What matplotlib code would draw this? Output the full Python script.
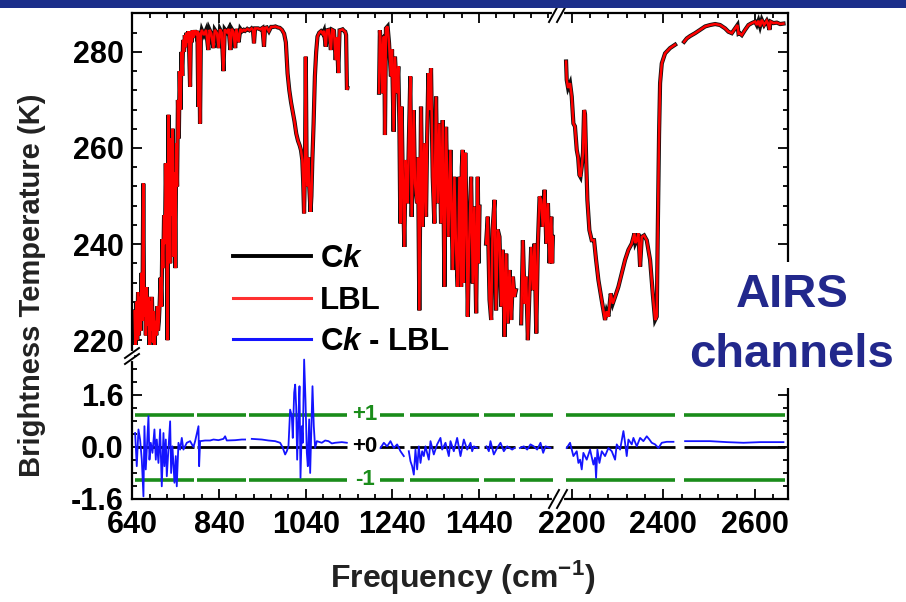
import numpy as np
import matplotlib
matplotlib.use('Agg')
import matplotlib.pyplot as plt
from matplotlib.ticker import MultipleLocator, FixedLocator, FormatStrFormatter
from matplotlib.lines import Line2D
from matplotlib.patches import Rectangle

plt.rcParams['font.family'] = ['Liberation Sans', 'DejaVu Sans']
plt.rcParams['font.weight'] = 'bold'
plt.rcParams['mathtext.fontset'] = 'custom'
plt.rcParams['mathtext.rm'] = 'Liberation Sans:bold'
plt.rcParams['mathtext.it'] = 'Liberation Sans:bold:italic'
plt.rcParams['mathtext.bf'] = 'Liberation Sans:bold'
plt.rcParams['axes.unicode_minus'] = False

nan = float('nan')

# ---------------- data ----------------
# Brightness temperature, LBL (K), long-wave part (cm-1, K); Ck coincides with LBL
bt_long = [
    (645, 226), (647, 219), (649, 228), (651, 220), (653, 230), (655, 221), (657, 229), (659, 222),
    (661, 234), (663, 224), (665, 252.6), (667, 225), (669, 231), (671, 221), (673, 231), (675, 223),
    (677, 229), (679, 219), (681, 228), (683, 222), (685, 229), (687, 219.5), (689, 226), (691, 219),
    (693, 224), (695, 221), (697, 227), (699, 222), (701, 224), (703, 228), (705, 233), (707, 227),
    (709, 241), (711, 235), (713, 246), (715, 240), (717, 256.8), (719, 244), (721, 220), (723, 266.9),
    (725, 250), (727, 236), (729, 262), (731, 246), (733, 264), (735, 237.4), (737, 255), (739, 235),
    (741, 261), (743, 252), (745, 270), (747, 262), (749, 276), (751, 268), (753, 280), (755, 275),
    (757, 282.5), (759, 280), (761, 283.5), (763, 281), (765, 284), (767, 282), (769, 284.3), (771, 280),
    (773, 272.8), (775, 284.3), (777, 282), (779, 284.5), (781, 283), (784, 284.5), (787, 283.5),
    (790, 284.4), (792, 268.6), (794, 284), (796, 265.1), (798, 283.5), (800, 284.6), (805, 283.5),
    (810, 284.6), (815, 280.4), (818, 284.6), (822, 283.8), (827, 280.8), (830, 284.6), (835, 283.9),
    (839, 280.8), (842, 284.7), (846, 284), (850, 276), (853, 284.7), (858, 284.1), (862, 284.8),
    (866, 280.4), (869, 284.8), (873, 284.2), (877, 280.8), (880, 284.8), (885, 282), (889, 284.8),
    (893, 284.3), (897, 284.6), (900, 284.4), (905, 284.8), (910, 284.5), (915, 284.9), (918, 284.6),
    (920.5, 281.8), (923, 284.9), (930, 284.9), (935, 284.7), (940, 285), (943.6, 281.1), (946, 285),
    (950, 285.1), (955, 284.3), (960, 285.2), (965, 285.2), (970, 285.3), (975, 285.1), (980, 285),
    (985, 284.6), (990, 283.8), (994, 282), (998, 275.5), (1002, 272), (1006, 269.5), (1010, 267.5),
    (1014, 265.5), (1018, 263), (1022, 261.5), (1026, 260.5), (1029, 259.5), (1032, 257.5), (1034, 253),
    (1036, 246.4), (1038, 255), (1040, 279), (1042, 255), (1044, 252), (1046, 258), (1048, 252),
    (1051, 246.7), (1053, 250), (1055, 257), (1058, 265), (1061, 274.9), (1064, 280), (1067, 283.2),
    (1071, 284), (1075, 284.3), (1079, 283.8), (1082, 284.4), (1086, 281.1), (1089, 284.5), (1093, 284.6),
    (1098, 280.4), (1101, 284.6), (1105, 284.4), (1109, 278.3), (1112, 283), (1115, 275.6), (1118, 284.5),
    (1122, 284.6), (1125, 284.7), (1128, 284.4), (1131, 284.2), (1133, 283.5), (1135, 272.1), (1136, 272.5),
    (1170, nan),
    (1209, 271.5), (1211, 284.5), (1214, 280), (1217, 271.4), (1219, 283), (1221, 283.2), (1222.7, 262.7),
    (1225, 284.9), (1228.8, 285.3), (1232, 282), (1236.5, 274.9), (1239, 280.5), (1242.7, 263.4),
    (1245.8, 279), (1250.4, 271.4), (1253.5, 277), (1256, 265), (1258.1, 244.3), (1261.2, 268.6),
    (1263.5, 255.4), (1267.4, 239.4), (1270.5, 257.5), (1273, 252), (1275, 248.5), (1278, 262),
    (1281.2, 274.9), (1284.3, 245.7), (1289, 267.9), (1292, 252.6), (1296.7, 248.5), (1299, 258),
    (1302, 226.2), (1305.9, 268.6), (1309.8, 243.6), (1313.6, 261), (1317.5, 245.7), (1320, 262),
    (1322.9, 275.6), (1325.2, 267.9), (1329, 276.6), (1332.9, 254), (1336.7, 244.3), (1340.6, 270.7),
    (1344.4, 248.5), (1348.3, 265.1), (1352.1, 244.3), (1356, 265.8), (1359.9, 231.1), (1363.7, 264.4),
    (1369.1, 241.5), (1373.7, 259.6), (1379.1, 234.6), (1383, 254), (1386.8, 238.8), (1390.7, 231.1),
    (1394.5, 254), (1398.4, 231.1), (1400, 256), (1402.2, 259.6), (1404, 232), (1406.1, 247.1),
    (1408, 259), (1410, 250), (1413.8, 224.9), (1417, 240), (1421.5, 254), (1425.4, 231.8),
    (1429, 247.8), (1433.1, 225.6), (1436.9, 254), (1439, 236), (1441, 247.8),
    (1448, nan),
    (1456, 240.1), (1460, 245.7), (1464, 228.4), (1467.8, 224.2), (1471, 243), (1475.5, 249.2),
    (1479, 226.2), (1483, 243), (1487, 241.5), (1491, 227), (1494.8, 238.8), (1498.6, 220.7),
    (1502.4, 238), (1506.3, 223.5), (1510, 234.6), (1514, 224.2), (1518, 233.2), (1521.7, 229),
    (1525, 230.4),
    (1531, nan),
    (1537, 223.5), (1541, 240.8), (1545, 227.6), (1548.6, 233.2), (1552.5, 220), (1556, 229.7),
    (1560.2, 239.4), (1564, 230.4), (1567.9, 240.1), (1571.8, 221.4), (1575.6, 240.1), (1579.5, 249.9),
    (1583, 249.2), (1587, 243.6), (1591.1, 251.3), (1595, 240.1), (1598.8, 248.5), (1602.6, 236),
    (1606.5, 245.7), (1608.5, 236), (1610.3, 241.5),
]

# Brightness temperature, short-wave part
bt_short = [
    (2187.6, 278), (2189, 274.2), (2192, 272.5), (2196.3, 273.5), (2200, 270.7), (2203.6, 265.1),
    (2207, 264.5), (2210.9, 259.6), (2214, 258), (2216.7, 254.4), (2219, 254), (2221.8, 256.1),
    (2224.5, 259), (2226.9, 267.9), (2229, 267), (2231.5, 257.5), (2234.1, 249.2), (2238.5, 242.9),
    (2243.6, 240.8), (2248.7, 240.8), (2253.1, 236.7), (2258.2, 232.5), (2265.4, 228.3), (2272.7, 224.2),
    (2276, 226), (2280, 224.9), (2285.1, 229.7), (2289.5, 227.6), (2294.5, 229), (2301.8, 231.1),
    (2309.1, 233.9), (2316.4, 236.7), (2323.7, 238.8), (2331, 240.1), (2336.8, 242.2), (2339, 240.2),
    (2341.9, 240.8), (2345.5, 242.2), (2349.2, 235.3), (2352.8, 241.5), (2357.9, 241.8), (2363.7, 240.8),
    (2371, 236.7), (2376.8, 229.7), (2381.9, 224.2), (2385.5, 224.9), (2387.7, 242.2), (2390.6, 263),
    (2392.8, 273.5), (2396.5, 277.6), (2403.7, 279.7), (2414.6, 280.8), (2425.6, 281.5),
    (2435, nan),
    (2445.2, 282.1), (2451, 282.8), (2458.3, 283.3), (2469.2, 283.9), (2480.2, 284.6), (2491.1, 285.3),
    (2502, 285.6), (2513, 285.8), (2523.8, 285.6), (2534.7, 284.9), (2542, 284.2), (2549.3, 283.9),
    (2556.6, 284.9), (2561.7, 285.6), (2564, 283.8), (2566, 283.9), (2571.1, 283.5), (2578.4, 284.6),
    (2585.7, 285.6), (2593, 286), (2600.3, 286.3), (2604, 285.6), (2607.5, 286.5), (2611, 285.3),
    (2614.8, 286.7), (2619.8, 285.6), (2625.7, 286.5), (2628, 286), (2631.5, 284.6), (2634, 286.3),
    (2640.3, 286), (2647.6, 286.1), (2654.8, 285.8), (2662.1, 285.9),
]

# Ck - LBL difference (K), long-wave part
diff_long = [
    (646.2, 0.43), (650, -0.59), (653.9, 0.54), (657.7, 0.23), (661.6, -0.39), (665.4, -1.52),
    (667.7, 0.64), (670.8, -0.69), (674.6, 0.28), (677, 0.95), (679.3, -0.39), (682.3, 0.13),
    (686.2, -0.18), (690.8, 0.54), (693.9, -0.39), (696.2, 0.23), (700, -0.49), (703.9, 0.54),
    (707.7, -1.21), (711.6, 0.43), (713.9, -0.59), (717, 0.23), (719.3, -0.9), (723.1, -0.08),
    (727, 0.79), (729.3, -0.8), (732.3, 0.02), (737, -1.1), (740, -0.28), (742.3, -1.21),
    (746.2, 0.13), (750, -0.08), (753.9, 0.28), (757.7, -0.08), (765.4, 0.13), (773.1, 0.18),
    (780.8, 0.0), (784.7, 0.18), (792.4, 0.64), (793.9, -0.59), (796.2, 0.18), (807.7, 0.2),
    (819.3, 0.2), (827, 0.23), (838.5, 0.21), (850, 0.25), (853.9, 0.33), (857.7, 0.2),
    (877, 0.21), (892.4, 0.23), (900, 0.23),
    (905, nan),
    (915.4, 0.25), (938.5, 0.23), (953.9, 0.2), (969.3, 0.18), (980.8, 0.13), (986.2, 0.0),
    (992.4, -0.23), (996.2, -0.13), (1000, 0.02), (1003.9, 1.15), (1007.8, 0.95), (1010, 0.28),
    (1013.2, 1.67), (1015.5, 1.92), (1017.8, 1.26), (1020.1, -0.39), (1023.1, 0.95), (1025.5, 1.87),
    (1027.8, -0.95), (1030.9, 0.64), (1033.1, 0.13), (1036.2, 2.69), (1039.3, 1.46), (1042.4, -0.18),
    (1044.7, -0.59), (1047.8, 0.85), (1050.1, -0.8), (1052.4, 0.33), (1055.5, 1.87), (1058.5, 0.64),
    (1061.6, -0.03), (1065.5, 0.18), (1077, 0.13), (1084.7, 0.2), (1092.4, 0.18), (1100.1, 0.11),
    (1107.8, 0.13), (1123.2, 0.15), (1134.7, 0.13),
    (1170, nan),
    (1212.4, -0.03), (1220.1, 0.13), (1227.7, 0.02), (1235.4, 0.18), (1243.1, -0.03), (1250.8, 0.08),
    (1258.5, -0.13), (1266.2, -0.28),
    (1272, nan),
    (1277.7, -0.13), (1281.6, -0.44), (1285.4, -0.59), (1289.3, -0.85), (1293.1, -0.08), (1297, -0.69),
    (1300.8, 0.02), (1304.7, -0.49), (1308.5, -0.13), (1312.4, -0.28), (1316.2, 0.02), (1323.9, -0.39),
    (1327.8, 0.18), (1335.4, -0.23), (1343.1, 0.08), (1350.8, 0.28), (1354.7, -0.08), (1362.4, 0.13),
    (1370.1, -0.28), (1373.9, 0.18), (1381.6, -0.13), (1389.3, 0.28), (1397, -0.28), (1404.7, 0.23),
    (1412.4, -0.08), (1420.1, 0.13), (1423.9, -0.13), (1427.8, 0.02), (1435.5, -0.03),
    (1446, nan),
    (1457, 0.02), (1462.4, -0.13), (1466.2, 0.18), (1473.9, -0.23), (1481.6, -0.03), (1489.3, 0.13),
    (1497, -0.13), (1504.7, 0.02), (1516.2, -0.08), (1521.6, -0.03),
    (1528, nan),
    (1533.9, -0.03), (1543.2, 0.02), (1550.9, -0.08), (1558.5, 0.08), (1566.2, 0.02), (1573.9, -0.08),
    (1581.6, 0.13), (1587.8, -0.18), (1593.2, 0.02), (1604.7, -0.03),
]

# Ck - LBL difference (K), short-wave part
diff_short = [
    (2189, -0.03), (2196.3, 0.13), (2203.6, -0.28), (2210.9, -0.13), (2214.5, -0.49), (2218.2, -0.39),
    (2221.8, -0.69), (2225.4, -0.18), (2232.7, -0.39), (2240, -0.08), (2247.3, -0.54), (2250.9, -0.33),
    (2253.1, -0.95), (2256, -0.08), (2260.4, -0.49), (2265.5, -0.13), (2272.7, -0.28), (2280, -0.03),
    (2287.3, -0.13), (2294.6, -0.39), (2298.2, 0.08), (2305.5, -0.08), (2312.8, 0.49), (2316.4, 0.13),
    (2320, -0.28), (2323.7, 0.23), (2331, 0.08), (2334.6, 0.28), (2341.9, 0.02), (2349.2, 0.28),
    (2356.4, 0.18), (2363.7, 0.33), (2369.5, 0.23), (2374.6, 0.13), (2381.9, 0.08), (2389.2, -0.03),
    (2396.5, 0.13), (2407.4, 0.16), (2422, 0.16),
    (2435, nan),
    (2447.4, 0.18), (2502, 0.18), (2538.4, 0.15), (2574.8, 0.13), (2611.2, 0.15), (2662.1, 0.15),
]

# AIRS channel bands (cm-1) used for the +/-1 and 0 reference lines
bands = [(646, 783), (788, 902), (908, 1135), (1212, 1266), (1280, 1439),
         (1452, 1522), (1534, 1611), (2187, 2426), (2444, 2666)]
ref_levels = [1, 0, -1]
ref_labels = ['+1', '+0', '-1']

xticks_long = [640, 840, 1040, 1240, 1440]
xticks_short = [2200, 2400, 2600]
yticks_bt = [220, 240, 260, 280]
yticks_diff = [-1.6, 0.0, 1.6]

series_names = ['C$\\mathit{k}$', 'LBL', 'C$\\mathit{k}$ - LBL']

# ---------------- figure ----------------
W, H = 906, 602
fig = plt.figure(figsize=(W / 100, H / 100), dpi=100)
L, R, T, B = 132, 788, 13, 499
JX, JY = 558, 356
gs = fig.add_gridspec(2, 2, left=L / W, right=R / W, top=1 - T / H, bottom=1 - B / H,
                      width_ratios=[JX - L, R - JX], height_ratios=[JY - T, B - JY],
                      wspace=0, hspace=0)
ax_tl = fig.add_subplot(gs[0, 0])
ax_tr = fig.add_subplot(gs[0, 1])
ax_bl = fig.add_subplot(gs[1, 0])
ax_br = fig.add_subplot(gs[1, 1])

RED = '#ff0000'
BLUE = '#1414ff'
GREEN = '#1a8c1a'

f_long = np.array([p[0] for p in bt_long])
t_long = np.array([p[1] for p in bt_long])
f_short = np.array([p[0] for p in bt_short])
t_short = np.array([p[1] for p in bt_short])
ck_long, ck_short = t_long.copy(), t_short.copy()

for ax, f, lbl, ck in [(ax_tl, f_long, t_long, ck_long), (ax_tr, f_short, t_short, ck_short)]:
    ax.plot(f, ck, color='#101010', lw=3.0, zorder=2, solid_joinstyle='miter')
    ax.plot(f, lbl, color=RED, lw=1.8, zorder=3, solid_joinstyle='miter')

df_long = np.array([p[0] for p in diff_long])
dv_long = np.array([p[1] for p in diff_long])
df_short = np.array([p[0] for p in diff_short])
dv_short = np.array([p[1] for p in diff_short])

for ax, f, d, xl in [(ax_bl, df_long, dv_long, (639, 1622)), (ax_br, df_short, dv_short, (2170, 2672))]:
    for a, b in bands:
        if a >= xl[0] and b <= xl[1]:
            ax.hlines([1, -1], a, b, color=GREEN, lw=2.6, zorder=1)
            ax.hlines(0, a, b, color='black', lw=2.0, zorder=1)
    ax.plot(f, d, color=BLUE, lw=1.3, zorder=3)

for lev, lab in zip(ref_levels, ref_labels):
    ax_bl.text(1176, lev, lab, ha='center', va='center', fontsize=16, fontweight='bold',
               color='black' if lev == 0 else GREEN, zorder=4)

ax_tl.set_xlim(639, 1622)
ax_bl.set_xlim(639, 1622)
ax_tr.set_xlim(2170, 2672)
ax_br.set_xlim(2170, 2672)
for ax in (ax_tl, ax_tr):
    ax.set_ylim(216.7, 288.1)
for ax in (ax_bl, ax_br):
    ax.set_ylim(-1.6, 2.8)

for ax in (ax_tl, ax_tr, ax_bl, ax_br):
    for s in ax.spines.values():
        s.set_linewidth(1.6)
    ax.tick_params(which='both', direction='in', width=1.3, labelsize=22)
    ax.tick_params(which='major', length=7)
    ax.tick_params(which='minor', length=3.5)
    ax.tick_params(axis='x', which='major', pad=8)
    ax.tick_params(axis='y', which='major', pad=6)
    ax.xaxis.set_minor_locator(MultipleLocator(40))

ax_tl.spines['bottom'].set_visible(False)
ax_tl.spines['right'].set_visible(False)
ax_tr.spines['bottom'].set_visible(False)
ax_tr.spines['left'].set_visible(False)
ax_bl.spines['top'].set_visible(False)
ax_bl.spines['right'].set_visible(False)
ax_br.spines['top'].set_visible(False)
ax_br.spines['left'].set_visible(False)

ax_tl.tick_params(which='both', top=True, bottom=False, left=True, right=False,
                  labelbottom=False, labelleft=True)
ax_tr.tick_params(which='both', top=True, bottom=False, left=False, right=True,
                  labelbottom=False, labelleft=False)
ax_bl.tick_params(which='both', top=False, bottom=True, left=True, right=False)
ax_br.tick_params(which='both', top=False, bottom=True, left=False, right=True, labelleft=False)

for ax in (ax_tl, ax_bl):
    ax.xaxis.set_major_locator(FixedLocator(xticks_long))
for ax in (ax_tr, ax_br):
    ax.xaxis.set_major_locator(FixedLocator(xticks_short))
for ax in (ax_tl, ax_tr):
    ax.yaxis.set_major_locator(FixedLocator(yticks_bt))
    ax.yaxis.set_minor_locator(MultipleLocator(4))
for ax in (ax_bl, ax_br):
    ax.yaxis.set_major_locator(FixedLocator(yticks_diff))
    ax.yaxis.set_minor_locator(MultipleLocator(0.4))
    ax.yaxis.set_major_formatter(FormatStrFormatter('%.1f'))
for ax in (ax_tl, ax_tr, ax_bl, ax_br):
    for lab in ax.get_xticklabels() + ax.get_yticklabels():
        lab.set_fontweight('bold')

# legend
handles = [Line2D([], [], color='black', lw=2.8),
           Line2D([], [], color='#ff3030', lw=2.2),
           Line2D([], [], color=BLUE, lw=2.2)]
leg = fig.legend(handles, series_names, loc='upper left',
                 bbox_to_anchor=(233 / W, 1 - 244 / H), frameon=False,
                 prop={'weight': 'bold', 'size': 22.5}, handlelength=2.5,
                 handletextpad=0.28, labelspacing=0.37, borderpad=0, borderaxespad=0)

# break marks
def fig_line(xs, ys, **kw):
    fig.add_artist(Line2D([x / W for x in xs], [1 - y / H for y in ys],
                          transform=fig.transFigure, **kw))

for yy in (T, B):
    fig_line([JX - 4, JX + 4], [yy, yy], color='white', lw=3, zorder=10)
    for cx in (JX - 4, JX + 4):
        fig_line([cx - 5, cx + 5], [yy + 9, yy - 9], color='black', lw=1.4, zorder=11)
fig_line([L, L], [JY - 3, JY + 3], color='white', lw=3, zorder=10)
for cy in (JY - 3, JY + 3):
    fig_line([L - 7, L + 7], [cy + 5, cy - 5], color='black', lw=1.4, zorder=11)

# axis titles
fig.text(32 / W, 1 - 285 / H, 'Brightness Temperature (K)', rotation=90, ha='center',
         va='center', fontsize=21, fontweight='bold', color='#222222')
fig.text(463 / W, 1 - 578 / H, 'Frequency (cm$^{-1}$)', ha='center', va='center',
         fontsize=23, fontweight='bold', color='#222222')

fig.text(792 / W, 1 - 325 / H, 'AIRS\nchannels', ha='center', va='center', fontsize=34,
         fontweight='bold', color='#22288c', linespacing=1.45, zorder=20,
         bbox=dict(boxstyle='square,pad=0.25', facecolor='white', edgecolor='none'))

fig.add_artist(Rectangle((0, 1 - 8 / H), 1, 8 / H, transform=fig.transFigure,
                         facecolor='#1b2e8a', edgecolor='none', zorder=30))

fig.savefig('out.png', dpi=100)
